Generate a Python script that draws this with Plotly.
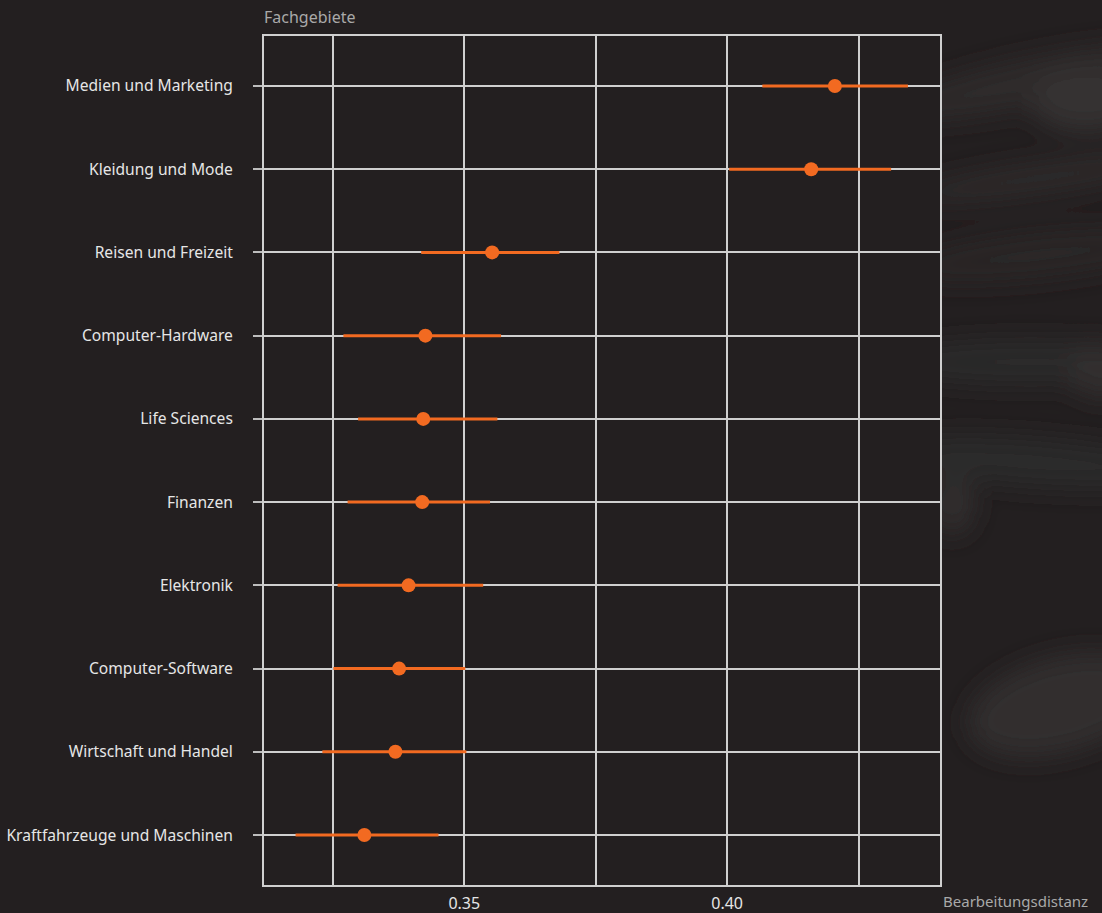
import base64
import plotly.graph_objects as go

# Fachgebiete (bottom to top) with mean edit distance and interval bounds
fachgebiete = [
    "Kraftfahrzeuge und Maschinen",
    "Wirtschaft und Handel",
    "Computer-Software",
    "Elektronik",
    "Finanzen",
    "Life Sciences",
    "Computer-Hardware",
    "Reisen und Freizeit",
    "Kleidung und Mode",
    "Medien und Marketing",
]
mittelwert = [0.3310, 0.3369, 0.3376, 0.3394, 0.3420, 0.3422, 0.3426, 0.3553, 0.4160, 0.4205]
untergrenze = [0.3179, 0.3230, 0.3251, 0.3259, 0.3278, 0.3298, 0.3270, 0.3418, 0.4004, 0.4067]
obergrenze = [0.3451, 0.3504, 0.3502, 0.3536, 0.3549, 0.3563, 0.3570, 0.3681, 0.4312, 0.4344]

grid_vals = [0.325, 0.35, 0.375, 0.40, 0.425]
grid_text = ["", "0.35", "", "0.40", ""]

W, H = 1102, 913
ML, MR, MT, MB = 264, 162, 36, 28
PW, PH = W - ML - MR, H - MT - MB

BG = "#231f20"
GRID = "#cfcfcf"
ORANGE = "#f26a21"

# soft blurred backdrop streaks
svg = f"""<svg xmlns='http://www.w3.org/2000/svg' width='{W}' height='{H}' viewBox='0 0 {W} {H}'>
<defs><filter id='b' x='-50%' y='-50%' width='200%' height='200%'><feGaussianBlur stdDeviation='13'/></filter></defs>
<rect width='{W}' height='{H}' fill='{BG}'/>
<g filter='url(#b)'>
<ellipse cx='1030' cy='82' rx='150' ry='24' fill='#2d2a2a' transform='rotate(-12 1030 82)'/>
<ellipse cx='1085' cy='100' rx='55' ry='32' fill='#353232'/>
<ellipse cx='1040' cy='178' rx='140' ry='15' fill='#2d2a2a' transform='rotate(-8 1040 178)'/>
<ellipse cx='1040' cy='255' rx='140' ry='22' fill='#2a2727' transform='rotate(-6 1040 255)'/>
<ellipse cx='1030' cy='362' rx='150' ry='22' fill='#2c2929'/>
<ellipse cx='1102' cy='370' rx='35' ry='28' fill='#322f2f'/>
<ellipse cx='1030' cy='462' rx='160' ry='24' fill='#2c2929' transform='rotate(4 1030 462)'/>
<ellipse cx='952' cy='505' rx='22' ry='30' fill='#312e2e'/>
<ellipse cx='1060' cy='705' rx='95' ry='48' fill='#302d2d' transform='rotate(-15 1060 705)'/>
</g>
</svg>"""
svg_uri = "data:image/svg+xml;base64," + base64.b64encode(svg.encode()).decode()

fig = go.Figure()
fig.add_trace(go.Scatter(
    x=mittelwert,
    y=fachgebiete,
    mode="markers",
    marker=dict(size=14, color=ORANGE),
    error_x=dict(
        type="data",
        symmetric=False,
        array=[o - m for o, m in zip(obergrenze, mittelwert)],
        arrayminus=[m - u for m, u in zip(mittelwert, untergrenze)],
        color=ORANGE,
        thickness=3,
        width=0,
    ),
    showlegend=False,
    hoverinfo="skip",
))

fig.update_layout(
    width=W,
    height=H,
    margin=dict(l=ML, r=MR, t=MT, b=MB, pad=0),
    paper_bgcolor=BG,
    plot_bgcolor=BG,
    font=dict(family="Noto Sans", color="#e6e6e6", size=15),
    images=[dict(
        source=svg_uri, xref="paper", yref="paper",
        x=-ML / PW, y=1 + MT / PH, sizex=W / PW, sizey=H / PH,
        sizing="stretch", xanchor="left", yanchor="top", layer="below",
    )],
    shapes=[dict(
        type="rect", xref="paper", yref="paper", x0=0, x1=1, y0=0, y1=1,
        fillcolor=BG, line=dict(width=0), layer="below",
    )],
    xaxis=dict(
        range=[0.3119, 0.4405],
        tickvals=grid_vals,
        ticktext=grid_text,
        showgrid=True,
        gridcolor=GRID,
        gridwidth=2,
        zeroline=False,
        showline=True,
        linecolor=GRID,
        linewidth=2,
        mirror=True,
        ticks="",
        tickfont=dict(size=16, color="#e6e6e6"),
        ticklabelstandoff=3,
        automargin=False,
    ),
    yaxis=dict(
        type="category",
        categoryorder="array",
        categoryarray=fachgebiete,
        range=[-0.6, 9.6],
        showgrid=True,
        gridcolor=GRID,
        gridwidth=2,
        zeroline=False,
        showline=True,
        linecolor=GRID,
        linewidth=2,
        mirror=True,
        ticks="outside",
        ticklen=9,
        tickwidth=2,
        tickcolor="#bdbdbd",
        tickfont=dict(size=15.6, color="#e6e6e6"),
        ticklabelstandoff=17,
        automargin=False,
    ),
    annotations=[
        dict(text="Fachgebiete", xref="paper", yref="paper", x=-2 / PW, y=1 + 19 / PH,
             xanchor="left", yanchor="middle", showarrow=False,
             font=dict(size=16, color="#a9a9a9")),
        dict(text="Bearbeitungsdistanz", xref="paper", yref="paper", x=1 + 1 / PW, y=-16 / PH,
             xanchor="left", yanchor="middle", showarrow=False,
             font=dict(size=15, color="#a9a9a9")),
    ],
)

fig.write_html("out.html")
